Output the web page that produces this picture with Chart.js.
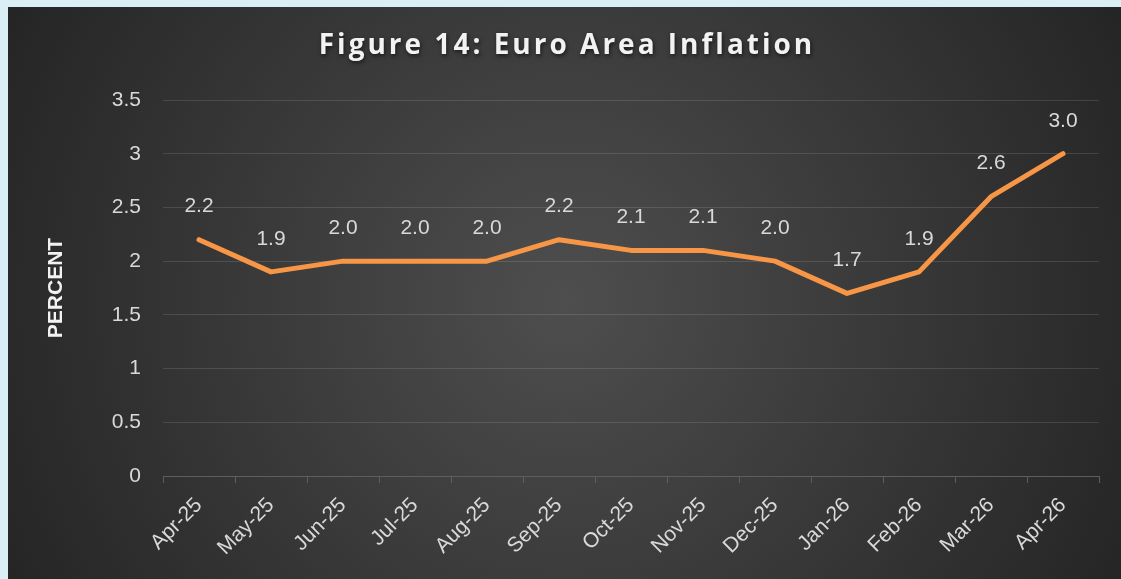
<!DOCTYPE html>
<html><head><meta charset="utf-8">
<script src="https://cdn.jsdelivr.net/npm/chart.js@4/dist/chart.umd.min.js"></script>
<style>html,body{margin:0;padding:0;background:#DAEEF5;}#wrap{width:1121px;height:579px;position:relative;}</style>
</head><body><div id="wrap"><canvas id="c" width="1121" height="579"></canvas></div>
<script>
const categories = ["Apr-25","May-25","Jun-25","Jul-25","Aug-25","Sep-25","Oct-25","Nov-25","Dec-25","Jan-26","Feb-26","Mar-26","Apr-26"];
const inflation = [2.2,1.9,2.0,2.0,2.0,2.2,2.1,2.1,2.0,1.7,1.9,2.6,3.0];
const yTicks = [0,0.5,1,1.5,2,2.5,3,3.5];
const titleText = "Figure 14: Euro Area Inflation";
const yTitle = "PERCENT";

const bgPlugin = {
  id:'bg',
  beforeDraw(chart){
    const ctx = chart.ctx;
    ctx.save();
    const x0=8,y0=7,x1=1121,y1=579;
    const g = ctx.createRadialGradient(565,300,0,565,300,640);
    g.addColorStop(0,'#4e4e4e');
    g.addColorStop(1,'#242424');
    ctx.fillStyle=g;
    ctx.fillRect(x0,y0,x1-x0,y1-y0);
    ctx.restore();
  },
  afterDraw(chart){
    const ctx = chart.ctx;
    ctx.save();
    ctx.font = "bold 28px 'Open Sans'";
    ctx.letterSpacing = "3px";
    ctx.textAlign='center';
    ctx.textBaseline='middle';
    ctx.shadowColor='rgba(0,0,0,0.6)';
    ctx.shadowBlur=4;
    ctx.shadowOffsetX=1;ctx.shadowOffsetY=2;
    ctx.fillStyle='#f2f2f2';
    ctx.fillText(titleText,567,46);
    ctx.restore();
    // data labels
    const meta = chart.getDatasetMeta(0);
    ctx.save();
    ctx.font = "21px 'Liberation Sans'";
    ctx.fillStyle='#d9d9d9';
    ctx.textAlign='center';
    ctx.textBaseline='middle';
    meta.data.forEach((pt,i)=>{
      ctx.fillText(inflation[i].toFixed(1), pt.x, pt.y-33);
    });
    ctx.restore();
  }
};

new Chart(document.getElementById('c'),{
  type:'line',
  data:{labels:categories,datasets:[{data:inflation,borderColor:'#F79646',borderWidth:5,pointRadius:0,tension:0,borderJoinStyle:'round',borderCapStyle:'round'}]},
  options:{
    responsive:false,animation:false,
    layout:{padding:{left:40,top:100,right:22,bottom:0}},
    plugins:{legend:{display:false},tooltip:{enabled:false},title:{display:false}},
    scales:{
      x:{
        offset:true,
        grid:{display:true,drawOnChartArea:false,drawTicks:true,tickLength:7,offset:true,color:'#5e5e5e'},
        border:{color:'#5e5e5e',width:1},
        ticks:{color:'#d9d9d9',font:{family:'Liberation Sans',size:21},maxRotation:45,minRotation:45,padding:10,autoSkip:false},
        afterFit(s){s.height=103;}
      },
      y:{
        min:0,max:3.5,
        afterBuildTicks(s){s.ticks=yTicks.map(v=>({value:v}));},
        grid:{color:'rgba(255,255,255,0.12)',drawTicks:false},
        border:{display:false},
        ticks:{color:'#d9d9d9',font:{family:'Liberation Sans',size:21},padding:22,callback:v=>String(v)},
        title:{display:true,text:yTitle,color:'#f2f2f2',font:{family:'Liberation Sans',size:21,weight:'bold'},padding:{top:4,bottom:4}},
        afterFit(s){s.width=123;}
      }
    }
  },
  plugins:[bgPlugin]
});
</script></body></html>
